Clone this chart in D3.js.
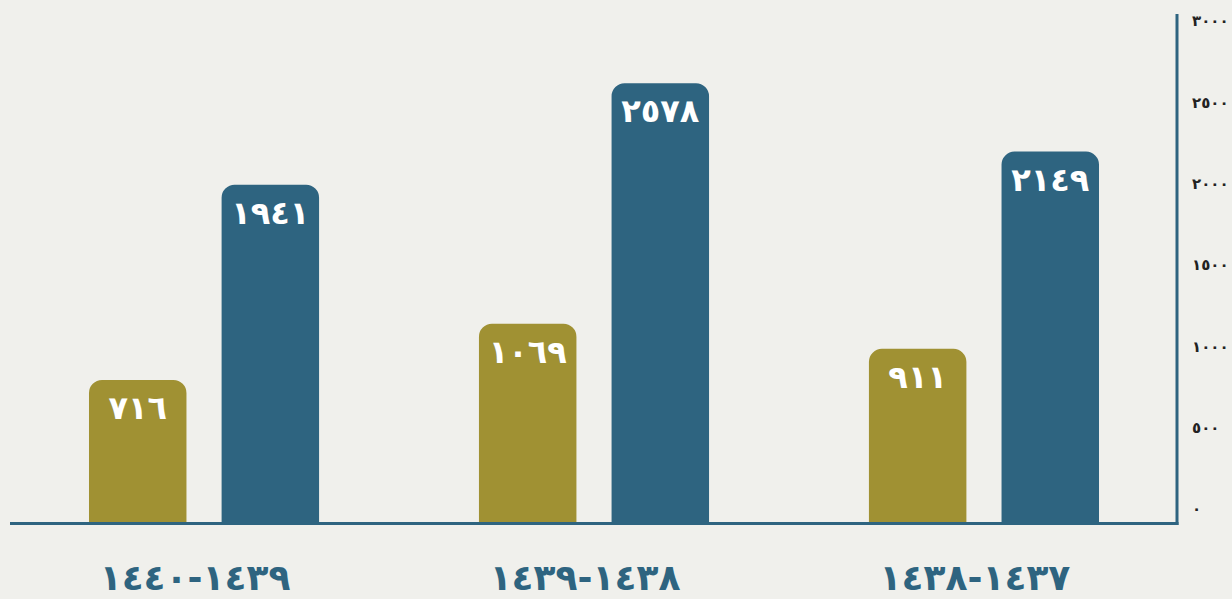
<!DOCTYPE html>
<html>
<head>
<meta charset="utf-8">
<script src="https://cdn.jsdelivr.net/npm/d3@7"></script>
<style>
  html, body { margin: 0; padding: 0; background: #f0f0ec; }
  svg { display: block; }
</style>
</head>
<body>
<svg id="chart" width="1232" height="599"></svg>
<script>
// hijri years, logical order (earliest first, drawn right to left)
var categories = ["١٤٣٧-١٤٣٨", "١٤٣٨-١٤٣٩", "١٤٣٩-١٤٤٠"];
var goldValues = [911, 1069, 716];
var blueValues = [2149, 2578, 1941];
var tickValues = [0, 500, 1000, 1500, 2000, 2500, 3000];

var gold = "#a09133",
  blue = "#2e6480";

var svg = d3.select("#chart"),
  baseY = 523.5,
  left = 11,
  right = 1177;

function arabic(n) {
  return String(n).replace(/\d/g, function(c) { return "٠١٢٣٤٥٦٧٨٩"[+c]; });
}

var data = categories.map(function(c, i) {
  return {cat: c, bars: [{key: "gold", value: goldValues[i]}, {key: "blue", value: blueValues[i]}]};
});

var x = d3.scaleBand()
  .domain(categories)
  .range([right, left])
  .paddingInner(0.41)
  .paddingOuter(0.2);

var xInner = d3.scaleBand()
  .domain(["gold", "blue"])
  .range([0, x.bandwidth()])
  .paddingInner(0.265);

// bars and the axis labels are not on quite the same scale in the original
var yBar = d3.scaleLinear().domain([0, 3000]).range([494, 16]);
var yAxis = d3.scaleLinear().domain([0, 3000]).range([509, 21]);

function topRounded(x0, y0, w, h, r) {
  var p = d3.path();
  p.moveTo(x0, y0 + h);
  p.lineTo(x0, y0 + r);
  p.arcTo(x0, y0, x0 + r, y0, r);
  p.lineTo(x0 + w - r, y0);
  p.arcTo(x0 + w, y0, x0 + w, y0 + r, r);
  p.lineTo(x0 + w, y0 + h);
  p.closePath();
  return p.toString();
}

var groups = svg.selectAll("g.group")
  .data(data)
  .enter().append("g")
    .attr("class", "group")
    .attr("transform", function(d) { return "translate(" + x(d.cat) + ",0)"; });

groups.selectAll("path")
  .data(function(d) { return d.bars; })
  .enter().append("path")
    .attr("fill", function(d) { return d.key == "gold" ? gold : blue; })
    .attr("d", function(d) {
      var top = yBar(d.value);
      return topRounded(xInner(d.key), top, xInner.bandwidth(), baseY - top, 13);
    });

groups.selectAll("text.val")
  .data(function(d) { return d.bars; })
  .enter().append("text")
    .attr("class", "val")
    .attr("x", function(d) { return xInner(d.key) + xInner.bandwidth() / 2; })
    .attr("y", function(d) { return yBar(d.value) + 39; })
    .attr("text-anchor", "middle")
    .attr("fill", "#fff")
    .style("font", "bold 32px 'DejaVu Sans'")
    .style("letter-spacing", "-1px")
    .text(function(d) { return arabic(d.value); });

// category labels under the baseline
svg.selectAll("text.cat")
  .data(categories)
  .enter().append("text")
    .attr("class", "cat")
    .attr("x", function(d) { return x(d) + x.bandwidth() / 2 - 9; })
    .attr("y", 590)
    .attr("text-anchor", "middle")
    .attr("fill", blue)
    .style("font", "bold 36px 'DejaVu Sans'")
    .text(function(d) { return d; });

// axis lines
svg.append("line")
  .attr("x1", 10).attr("x2", right + 1.5)
  .attr("y1", baseY).attr("y2", baseY)
  .attr("stroke", blue).attr("stroke-width", 3);

svg.append("line")
  .attr("x1", right).attr("x2", right)
  .attr("y1", 14).attr("y2", baseY + 1.5)
  .attr("stroke", blue).attr("stroke-width", 3);

var ay = svg.append("g")
  .attr("transform", "translate(" + right + ",0)")
  .call(d3.axisRight(yAxis).tickValues(tickValues).tickFormat(arabic).tickSize(0).tickPadding(15));

ay.select(".domain").remove();
ay.selectAll("text")
  .attr("fill", "#222")
  .style("font", "bold 15px 'DejaVu Sans'")
  .style("letter-spacing", "-1.5px");
</script>
</body>
</html>
